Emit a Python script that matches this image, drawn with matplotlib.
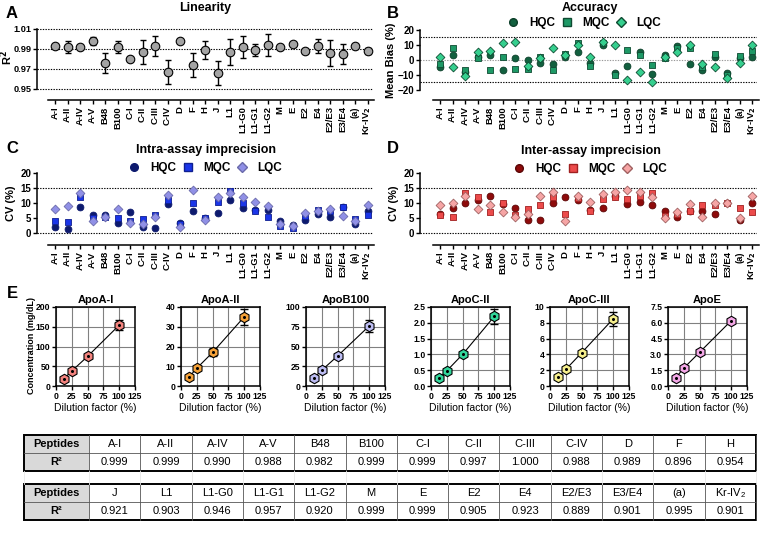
import matplotlib

matplotlib.use("Agg")

import matplotlib.pyplot as plt
from matplotlib.lines import Line2D
from matplotlib.patches import Rectangle
from matplotlib.ticker import FormatStrFormatter

W, H = 766, 533

PEPTIDES = ["A-I", "A-II", "A-IV", "A-V", "B48", "B100", "C-I", "C-II", "C-III", "C-IV",
            "D", "F", "H", "J", "L1", "L1-G0", "L1-G1", "L1-G2", "M", "E", "E2", "E4",
            "E2/E3", "E3/E4", "(a)", r"Kr-IV$_\mathbf{2}$"]

# panel A - linearity (R2 mean and sd)
LIN_R2 = [0.993, 0.992, 0.992, 0.998, 0.976, 0.992, 0.980, 0.987, 0.993, 0.967, 0.998, 0.974, 0.989,
          0.966, 0.987, 0.992, 0.989, 0.994, 0.992, 0.995, 0.988, 0.993, 0.986, 0.985, 0.993, 0.988]
LIN_SD = [0.001, 0.006, 0.0, 0.004, 0.010, 0.006, 0.0, 0.012, 0.010, 0.012, 0.0, 0.012, 0.009,
          0.012, 0.013, 0.011, 0.006, 0.011, 0.0, 0.0, 0.0, 0.007, 0.013, 0.010, 0.001, 0.003]

# panel B - accuracy (mean bias %)
BIAS_HQC = [-5, 3, -8, 2, 3, -6.5, 1, 0, -2, -2.5, 2, 5, -2, 10, -9, -4, 5, -9.5, 3, 9, -2.5, -7, 2, -9, 1, 2]
BIAS_MQC = [-3, 8, -7, 1, -7, 2, -6, -6, 2, -6.5, 4, 11, -4, 11, -10, 6.5, 3, -3.5, 1, 8, 8, -5, 4, -10, 2.5, 6]
BIAS_LQC = [2, -5, -11, 5, 6, 11, 12, -4, 1, 8, 3, 10, 2, 12, 10, -13.5, -8, -15, 2, 5, 10, -3, -4.5, -12, -2, 10]

# panel C - intra-assay CV (%)
INTRA_HQC = [2, 1.5, 8.8, 6, 6, 3.2, 7, 2, 1.8, 9.7, 3.5, 7.2, 5, 6.8, 11, 8.4, 7.8, 7.6, 4, 2.7, 4.2, 6.3, 5.2, 8.8, 3.1, 7.4]
INTRA_MQC = [4, 3.7, 12, 5, 5.3, 5, 4, 4.8, 6, 11, 3, 10, 5, 10.2, 14, 10, 7.4, 5.3, 2.2, 1.6, 5.7, 7.6, 7.2, 8.8, 4.8, 6]
INTRA_LQC = [8, 9, 13.3, 4, 5.5, 8, 3.2, 3, 5.2, 12.7, 2, 14.2, 4.2, 12, 13.5, 12, 10.3, 9.1, 3, 2.2, 6.6, 7.2, 8, 5.8, 4.1, 9.2]

# panel D - inter-assay CV (%)
INTER_HQC = [6.5, 8.3, 10, 11, 12.2, 9.8, 8.3, 4.3, 4.2, 10, 12, 11, 7.6, 8.3, 12.5, 9.8, 10.4, 9.4, 7.2, 5.3, 7.3, 7.3, 6.2, 10, 4.3, 9.9]
INTER_MQC = [6, 5.3, 13.2, 12, 6.9, 10, 6, 8, 9.2, 12, 6.3, 11.8, 7.5, 11.4, 12, 11.2, 12.2, 13.2, 5.6, 6.2, 7.3, 9.2, 9.2, 10, 8.2, 7.1]
INTER_LQC = [9.2, 10, 12.4, 8, 9.3, 7, 5.2, 6.2, 12.2, 13.6, 4.1, 12.2, 10.2, 13, 13.6, 14.3, 13.8, 12, 5, 7, 9.7, 5.4, 10, 9.9, 5.1, 12.2]

# panel E - dilution linearity
DILUTION = [12.5, 25, 50, 100]
APO_NAMES = ["ApoA-I", "ApoA-II", "ApoB100", "ApoC-II", "ApoC-III", "ApoE"]
APO_CONC = [[18, 38, 75, 154], [4.5, 9, 17, 35], [10, 20, 38, 76],
            [0.25, 0.48, 1.0, 2.2], [1.1, 2.1, 4.2, 8.5], [0.8, 1.7, 3.2, 6.2]]
APO_ERR = [[1, 2, 3, 13], [0.4, 0.8, 2, 4], [0.5, 1, 2, 8],
           [0.02, 0.03, 0.05, 0.23], [0.1, 0.1, 0.2, 0.9], [0.05, 0.08, 0.1, 0.15]]
APO_YMAX = [200, 40, 100, 2.5, 10, 7.5]
APO_YSTEP = [50, 10, 25, 0.5, 2, 1.5]
APO_COLORS = ["#F3837E", "#F5A23A", "#BCBCF2", "#33D69B", "#F6EF8C", "#F3A7E6"]
APO_LEFT = [56, 181, 306, 431, 550, 668]

# tables
TABLE1_NAMES = ["A-I", "A-II", "A-IV", "A-V", "B48", "B100", "C-I", "C-II", "C-III", "C-IV", "D", "F", "H"]
TABLE1_R2 = [0.999, 0.999, 0.990, 0.988, 0.982, 0.999, 0.999, 0.997, 1.000, 0.988, 0.989, 0.896, 0.954]
TABLE2_NAMES = ["J", "L1", "L1-G0", "L1-G1", "L1-G2", "M", "E", "E2", "E4", "E2/E3", "E3/E4", "(a)",
                r"Kr-IV$_{\mathregular{2}}$"]
TABLE2_R2 = [0.921, 0.903, 0.946, 0.957, 0.920, 0.999, 0.999, 0.905, 0.923, 0.889, 0.901, 0.995, 0.901]

plt.rcParams.update({
    "font.family": ["Liberation Sans", "DejaVu Sans"],
    "font.weight": "bold",
    "axes.linewidth": 1.1,
    "mathtext.default": "bf",
})

fig = plt.figure(figsize=(W / 100, H / 100), dpi=100)


def px_axes(left, top, right, bottom):
    return fig.add_axes([left / W, 1 - bottom / H, (right - left) / W, (bottom - top) / H])


def bold_ticks(ax):
    for lab in ax.get_xticklabels() + ax.get_yticklabels():
        lab.set_fontweight("bold")


def fig_ylabel(text, x, y, size=8):
    fig.text(x / W, 1 - y / H, text, rotation=90, ha="center", va="center",
             fontsize=size, fontweight="bold")


def category_axes(left, top, right, bottom, first_x, ylim, ybounds, yticks, ysize=7):
    ax = px_axes(left, top, right, bottom)
    step = 12.5
    ax.set_xlim(-(first_x - left) / step, -(first_x - left) / step + (right - left) / step)
    ax.set_ylim(*ylim)
    ax.spines[["top", "right"]].set_visible(False)
    ax.spines["left"].set_bounds(*ybounds)
    ax.spines["bottom"].set_bounds(-0.55, 25.5)
    ax.set_xticks(range(len(PEPTIDES)))
    ax.set_xticklabels(PEPTIDES, rotation=90, fontsize=6.8, fontweight="bold")
    ax.set_yticks(yticks)
    ax.tick_params(axis="x", length=3, width=1, pad=1.5)
    ax.tick_params(axis="y", length=3, width=1, pad=1, labelsize=ysize)
    ax.patch.set_alpha(0)
    return ax


def qc_scatter(ax, series, colors, edges):
    markers = ["o", "s", "D"]
    sizes = [24, 24, 20]
    x = range(len(PEPTIDES))
    for vals, m, s, c, e in zip(series, markers, sizes, colors, edges):
        ax.scatter(x, vals, marker=m, s=s, color=c, edgecolor=e, linewidth=0.6, zorder=3)


def qc_legend(ax, cx, cy, colors, edges):
    handles = [
        Line2D([], [], ls="none", marker="o", ms=5.5, mfc=colors[0], mec=edges[0], label="HQC"),
        Line2D([], [], ls="none", marker="s", ms=5.5, mfc=colors[1], mec=edges[1], label="MQC"),
        Line2D([], [], ls="none", marker="D", ms=5, mfc=colors[2], mec=edges[2], label="LQC"),
    ]
    ax.legend(handles=handles, loc="center", bbox_to_anchor=(cx / W, 1 - cy / H),
              bbox_transform=fig.transFigure, ncol=3, frameon=False, handlelength=0.8,
              handletextpad=0.9, columnspacing=0.6, prop={"size": 8.5, "weight": "bold"},
              borderpad=0)


def dotted(ax, y, color="black"):
    ax.axhline(y, color=color, ls=(0, (1.2, 1.2)), lw=0.8, zorder=1)


# ---- A: linearity
axA = category_axes(37, 27, 373, 100, 55, (0.939, 1.012), (0.95, 1.01), [0.95, 0.97, 0.99, 1.01], ysize=6.6)
axA.yaxis.set_major_formatter(FormatStrFormatter("%.2f"))
for y in [0.95, 0.97, 0.99, 1.01]:
    dotted(axA, y)
xs = [i for i, s in enumerate(LIN_SD) if s > 0]
axA.errorbar(xs, [LIN_R2[i] for i in xs], yerr=[LIN_SD[i] for i in xs], fmt="none",
             ecolor="black", elinewidth=1, capsize=2.5, capthick=1, zorder=2)
axA.scatter(range(len(PEPTIDES)), LIN_R2, s=38, color="#A3A3A3", edgecolor="black", linewidth=0.8, zorder=3)
fig_ylabel("R$^2$", 7, 58)
fig.text(205 / W, 1 - 8 / H, "Linearity", ha="center", va="center", fontsize=9, fontweight="bold")

# ---- B: accuracy
axB = category_axes(420, 27, 757, 100, 440, (-26.7, 22), (-20, 20), [-20, -10, 0, 10, 20])
dotted(axB, 15)
dotted(axB, -15)
dotted(axB, 0, "#9a9a9a")
green = ["#12603F", "#1E9966", "#35CF8E"]
green_edge = ["#0C3F29", "#0E4A31", "#0E4A31"]
qc_scatter(axB, [BIAS_HQC, BIAS_MQC, BIAS_LQC], green, green_edge)
fig_ylabel("Mean Bias (%)", 391, 60)
qc_legend(axB, 585, 23, green, green_edge)
fig.text(590 / W, 1 - 8 / H, "Accuracy", ha="center", va="center", fontsize=9, fontweight="bold")

# ---- C: intra-assay
axC = category_axes(37, 170, 373, 245, 55, (-4, 21), (0, 20), [0, 5, 10, 15, 20])
dotted(axC, 15)
dotted(axC, 0)
blue = ["#0D1A6E", "#1A35E8", "#9090E6"]
blue_edge = ["#0D1A6E", "#0F1F90", "#6A6AAA"]
qc_scatter(axC, [INTRA_HQC, INTRA_MQC, INTRA_LQC], blue, blue_edge)
fig_ylabel("CV (%)", 11, 203)
qc_legend(axC, 206, 168, blue, blue_edge)
fig.text(206 / W, 1 - 150 / H, "Intra-assay imprecision", ha="center", va="center", fontsize=9, fontweight="bold")

# ---- D: inter-assay
axD = category_axes(420, 170, 757, 245, 440, (-4, 21), (0, 20), [0, 5, 10, 15, 20])
dotted(axD, 15)
dotted(axD, 0)
red = ["#8E0B0B", "#EC4B4B", "#F6A5A5"]
red_edge = ["#5A0505", "#A02020", "#A06060"]
qc_scatter(axD, [INTER_HQC, INTER_MQC, INTER_LQC], red, red_edge)
fig_ylabel("CV (%)", 394, 203)
qc_legend(axD, 591, 169, red, red_edge)
fig.text(591 / W, 1 - 151 / H, "Inter-assay imprecision", ha="center", va="center", fontsize=9, fontweight="bold")

for ax in (axA, axB, axC, axD):
    bold_ticks(ax)

# ---- E: dilution plots
for k, name in enumerate(APO_NAMES):
    left = APO_LEFT[k]
    ax = px_axes(left, 307, left + 79, 386)
    ax.set_xlim(0, 125)
    ax.set_ylim(0, APO_YMAX[k])
    ax.set_xticks(range(0, 126, 25))
    nt = int(round(APO_YMAX[k] / APO_YSTEP[k]))
    ax.set_yticks([APO_YSTEP[k] * i for i in range(nt + 1)])
    if APO_YSTEP[k] < 1 or APO_YSTEP[k] == 1.5:
        ax.yaxis.set_major_formatter(FormatStrFormatter("%.1f"))
    ax.grid(True, color="#808080", lw=0.8)
    ax.set_axisbelow(True)
    ax.tick_params(length=3, width=1, pad=1, labelsize=6.2)
    ax.errorbar(DILUTION, APO_CONC[k], yerr=APO_ERR[k], fmt="none", ecolor="black",
                elinewidth=1, capsize=3, capthick=1, zorder=2)
    ax.plot(DILUTION, APO_CONC[k], color="black", lw=0.8, zorder=2)
    ax.plot(DILUTION, APO_CONC[k], ls="none", marker="h", ms=7.5, mfc=APO_COLORS[k],
            mec="black", mew=0.8, zorder=3)
    ax.plot(DILUTION, APO_CONC[k], ls="none", marker="o", ms=1.2, color="black", zorder=4)
    ax.set_title(name, fontsize=8, fontweight="bold", pad=3)
    ax.set_xlabel("Dilution factor (%)", fontsize=7.5, labelpad=2)
    bold_ticks(ax)
fig_ylabel("Concentration (mg/dL)", 31, 346, size=6.5)

# ---- panel letters
for letter, x, y in [("A", 12, 13), ("B", 393, 13), ("C", 12, 148), ("D", 393, 148), ("E", 12, 293)]:
    fig.text(x / W, 1 - y / H, letter, ha="center", va="center", fontsize=12, fontweight="bold")

# ---- tables
tax = fig.add_axes([0, 0, 1, 1])
tax.set_xlim(0, W)
tax.set_ylim(H, 0)
tax.axis("off")

tleft, hdr_w, col_w, row_h = 24, 65, 51.3, 18
tright = tleft + hdr_w + col_w * 13
table_font = ["Liberation Sans Narrow", "Liberation Sans", "DejaVu Sans"]


def draw_table(top, names, values):
    tax.add_patch(Rectangle((tleft, top), hdr_w, 2 * row_h, fc="#D9D9D9", ec="none"))
    for i in range(14):
        x = tleft + hdr_w + col_w * i
        tax.plot([x, x], [top, top + 2 * row_h], color="#555555", lw=0.6)
    tax.plot([tleft, tright], [top + row_h, top + row_h], color="#555555", lw=0.6)
    tax.add_patch(Rectangle((tleft, top), tright - tleft, 2 * row_h, fc="none", ec="black", lw=1.4))
    tax.text(tleft + hdr_w / 2, top + row_h / 2, "Peptides", ha="center", va="center",
             fontsize=8, fontweight="bold", family=table_font)
    tax.text(tleft + hdr_w / 2, top + 1.5 * row_h, "R²", ha="center", va="center",
             fontsize=8, fontweight="bold", family=table_font)
    for i, (n, v) in enumerate(zip(names, values)):
        cx = tleft + hdr_w + col_w * (i + 0.5)
        tax.text(cx, top + row_h / 2, n, ha="center", va="center", fontsize=8,
                 fontweight="normal", family=table_font)
        tax.text(cx, top + 1.5 * row_h, f"{v:.3f}", ha="center", va="center", fontsize=8,
                 fontweight="normal", family=table_font)


draw_table(435, TABLE1_NAMES, TABLE1_R2)
draw_table(484, TABLE2_NAMES, TABLE2_R2)
# faint empty spacer row between the tables
for i in range(15):
    x = tleft + (0 if i == 0 else hdr_w + col_w * (i - 1))
    tax.plot([x, x], [471, 484], color="#E8E8E8", lw=0.6)

fig.savefig("out.png", dpi=100)
